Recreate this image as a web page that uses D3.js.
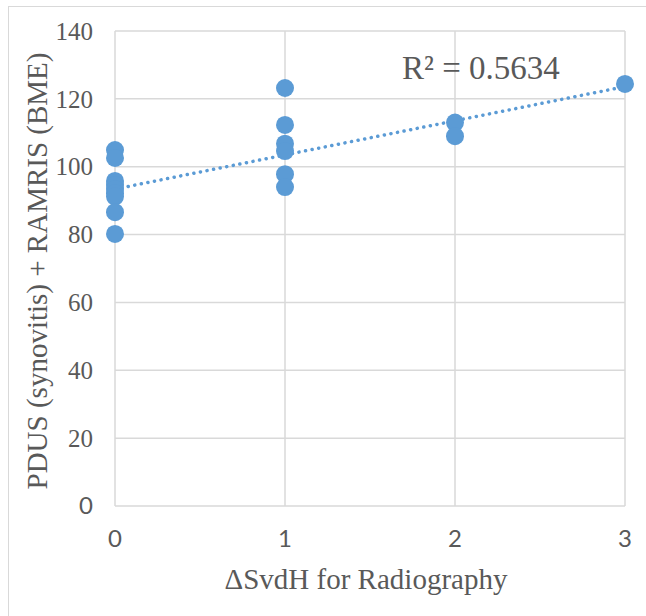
<!DOCTYPE html>
<html>
<head>
<meta charset="utf-8">
<script src="https://cdn.jsdelivr.net/npm/d3@7"></script>
<style>
  html, body { margin: 0; padding: 0; background: #fff; }
  svg { display: block; }
</style>
</head>
<body>
<div class="wrap-chart"></div>
<script>
var
  width = 646,
  height = 616,
  margin = {top: 31, right: 21, bottom: 110, left: 115},
  serif = "'Liberation Serif', 'Times New Roman', serif",
  sans = "Lato, 'Open Sans', sans-serif",
  gray = "#595959",
  blue = "#5b9bd5";

// values
var xValues = [0, 0, 0, 0, 0, 0, 0, 0, 0, 1, 1, 1, 1, 1, 1, 2, 2, 3];
var yValues = [104.9, 102.6, 95.8, 94.6, 93.4, 92.2, 91.2, 86.6, 80.2,
               123.2, 112.3, 106.8, 104.6, 97.8, 94, 113, 109, 124.4];
var xTicks = [0, 1, 2, 3];
var yTicks = [0, 20, 40, 60, 80, 100, 120, 140];
var trendEnds = [93.4, 123.6]; // linear trend at x = 0 and x = 3
var rSquared = "0.5634";

var points = xValues.map(function (x, i) {
  return {x: x, y: yValues[i]};
});

var x = d3.scaleLinear().domain([0, 3]).range([margin.left, width - margin.right]);
var y = d3.scaleLinear().domain([0, 140]).range([height - margin.bottom, margin.top]);

var svg = d3.select(".wrap-chart")
  .append("svg")
  .attr("width", width)
  .attr("height", height);

// outer chart border
svg.append("rect")
  .attr("x", 8.5).attr("y", 6.5)
  .attr("width", width + 10).attr("height", height + 10)
  .attr("fill", "none")
  .attr("stroke", "#d9d9d9")
  .attr("stroke-width", 1);

// grid
svg.append("g")
  .selectAll("line.hgrid")
  .data(yTicks).enter()
  .append("line")
  .attr("x1", x(0)).attr("x2", x(3))
  .attr("y1", function (d) { return y(d); })
  .attr("y2", function (d) { return y(d); })
  .attr("stroke", "#d9d9d9")
  .attr("stroke-width", 1.5);

svg.append("g")
  .selectAll("line.vgrid")
  .data(xTicks).enter()
  .append("line")
  .attr("y1", y(0)).attr("y2", y(140))
  .attr("x1", function (d) { return x(d); })
  .attr("x2", function (d) { return x(d); })
  .attr("stroke", "#d9d9d9")
  .attr("stroke-width", 1.5);

// y tick labels (0 is in sans, the rest in serif as in the picture)
svg.append("g")
  .selectAll("text")
  .data(yTicks).enter()
  .append("text")
  .attr("x", 93)
  .attr("y", function (d) { return y(d); })
  .attr("dy", "0.35em")
  .attr("text-anchor", "end")
  .attr("fill", gray)
  .style("font-family", function (d) { return d === 0 ? sans : serif; })
  .style("font-size", function (d) { return d === 0 ? "24px" : "25px"; })
  .text(function (d) { return d; });

// x tick labels
svg.append("g")
  .selectAll("text")
  .data(xTicks).enter()
  .append("text")
  .attr("x", function (d) { return x(d); })
  .attr("y", 547)
  .attr("text-anchor", "middle")
  .attr("fill", gray)
  .style("font-family", sans)
  .style("font-size", "24px")
  .text(function (d) { return d; });

// axis titles
svg.append("text")
  .attr("x", (x(0) + x(3)) / 2 - 4)
  .attr("y", 589)
  .attr("text-anchor", "middle")
  .attr("fill", gray)
  .style("font-family", serif)
  .style("font-size", "29px")
  .text("\u0394SvdH for Radiography");

svg.append("text")
  .attr("transform", "translate(47," + 271 + ") rotate(-90)")
  .attr("text-anchor", "middle")
  .attr("fill", gray)
  .style("font-family", serif)
  .style("font-size", "29px")
  .text("PDUS (synovitis) + RAMRIS (BME)");

// trendline
svg.append("line")
  .attr("x1", x(0)).attr("y1", y(trendEnds[0]))
  .attr("x2", x(3)).attr("y2", y(trendEnds[1]))
  .attr("stroke", blue)
  .attr("stroke-width", 3.5)
  .attr("stroke-linecap", "round")
  .attr("stroke-dasharray", "0.1 6.6");

// points
svg.append("g")
  .selectAll("circle")
  .data(points).enter()
  .append("circle")
  .attr("cx", function (d) { return x(d.x); })
  .attr("cy", function (d) { return y(d.y); })
  .attr("r", 9)
  .attr("fill", blue);

// R squared label
svg.append("text")
  .attr("x", 402)
  .attr("y", 79)
  .attr("fill", gray)
  .style("font-family", serif)
  .style("font-size", "33px")
  .text("R\u00b2 = " + rSquared);
</script>
</body>
</html>
